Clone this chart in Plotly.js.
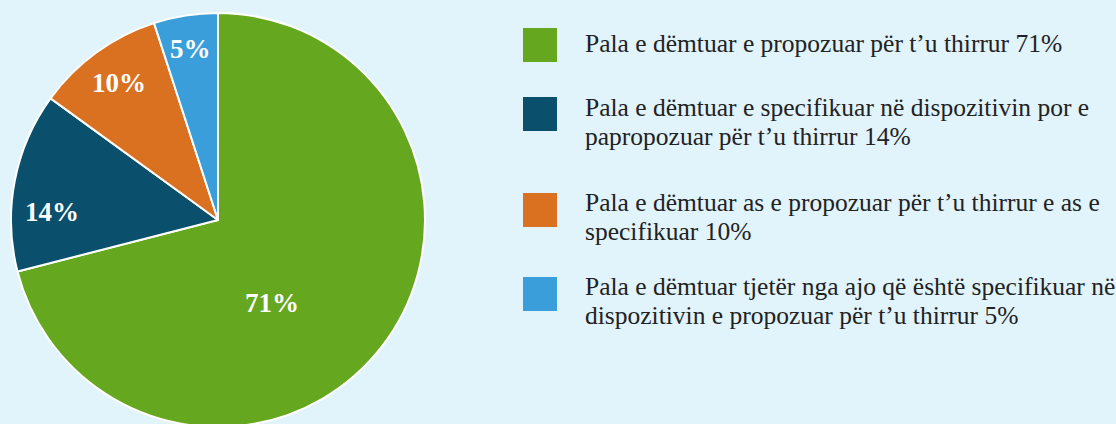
<!DOCTYPE html>
<html><head><meta charset="utf-8">
<script src="https://cdn.plot.ly/plotly-3.0.1.min.js"></script>
<style>html,body{margin:0;padding:0;background:#E1F3FB;overflow:hidden}#wrap{width:1116px;height:424px;overflow:hidden;position:relative}</style>
</head><body><div id="wrap"><div id="chart"></div></div>
<script>
// ---- data ----
const categories = [
  "Pala e dëmtuar e propozuar për t’u thirrur 71%",
  "Pala e dëmtuar e specifikuar në dispozitivin por e\npapropozuar për t’u thirrur 14%",
  "Pala e dëmtuar as e propozuar për t’u thirrur e as e\nspecifikuar 10%",
  "Pala e dëmtuar tjetër nga ajo që është specifikuar në\ndispozitivin e propozuar për t’u thirrur 5%"
];
const values = [71, 14, 10, 5];
const valueLabels = ["71%", "14%", "10%", "5%"];

// ---- styles / layout ----
const colors = ["#65A71E", "#0A4F6B", "#DA7121", "#3A9EDA"];
const W = 1116, H = 431;
const cx = 218, cy = 220, R = 207;
const legendTops = [28, 97, 193, 277];
const legendBaselines = [54, 118, 213, 297];
const lineStep = 28.5;
const legendFs = 25.5;
const labelRadius = [0.5, 0.8, 0.817, 0.836];
const labelNudge = [[-28, 20], [-3, 23], [0, 0], [0, 0]];

const px = x => x / W;
const py = y => 1 - y / H;

const trace = {
  type: 'pie',
  values: values,
  labels: categories,
  sort: false,
  direction: 'clockwise',
  rotation: 0,
  marker: {colors: colors, line: {color: '#FFFFFF', width: 2}},
  textinfo: 'none',
  hoverinfo: 'none',
  showlegend: false,
  domain: {x: [px(cx - R), px(cx + R)], y: [py(cy + R), py(cy - R)]}
};

const annotations = [];
const shapes = [];
const total = values.reduce((a, b) => a + b, 0);
let cum = 0;
values.forEach((v, i) => {
  const mid = (cum + v / 2) / total * 2 * Math.PI;
  cum += v;
  const lx = cx + labelRadius[i] * R * Math.sin(mid) + labelNudge[i][0];
  const ly = cy - labelRadius[i] * R * Math.cos(mid) + labelNudge[i][1];
  annotations.push({
    xref: 'paper', yref: 'paper', x: px(lx), y: py(ly),
    xanchor: 'center', yanchor: 'middle', showarrow: false,
    text: valueLabels[i],
    font: {family: 'Liberation Serif', size: 27, color: '#FFFFFF', weight: 'bold'}
  });
  shapes.push({
    type: 'rect', xref: 'paper', yref: 'paper',
    x0: px(523), x1: px(557), y0: py(legendTops[i] + 34), y1: py(legendTops[i]),
    fillcolor: colors[i], line: {width: 0}
  });
  categories[i].split('\n').forEach((ln, j) => {
    const base = legendBaselines[i] + j * lineStep;
    annotations.push({
      xref: 'paper', yref: 'paper', x: px(583), y: py(base - 0.40 * legendFs),
      xanchor: 'left', yanchor: 'middle', showarrow: false,
      text: ln,
      font: {family: 'Liberation Serif', size: legendFs, color: '#222222'}
    });
  });
});

const layout = {
  width: W, height: H,
  margin: {l: 0, r: 0, t: 0, b: 0},
  paper_bgcolor: '#E1F3FB',
  plot_bgcolor: '#E1F3FB',
  showlegend: false,
  annotations: annotations,
  shapes: shapes
};

Plotly.newPlot('chart', [trace], layout, {displayModeBar: false, staticPlot: true});
</script>
</body></html>
